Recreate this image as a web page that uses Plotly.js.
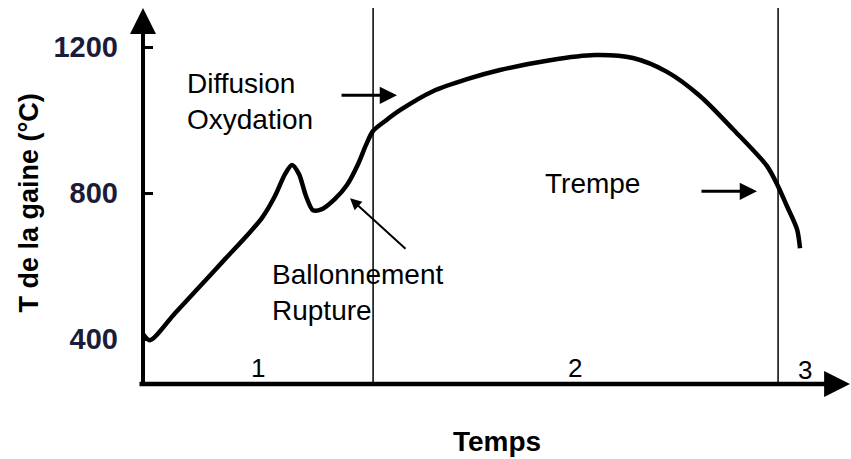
<!DOCTYPE html>
<html>
<head>
<meta charset="utf-8">
<script src="https://cdn.plot.ly/plotly-3.0.1.min.js"></script>
<style>
  html, body { margin: 0; padding: 0; background: #ffffff; }
  #chart { width: 851px; height: 459px; }
</style>
</head>
<body>
<div id="chart"></div>
<script>
// Cladding temperature curve (time in arbitrary units, temperature in °C)
const timeVals = [0, 0.99, 4.52, 8.05, 11.58, 15.11, 16.81, 18.64, 20.06, 21.05, 22.03, 23.02, 24.01, 25.28, 27.12, 28.81, 30.37, 31.50, 32.49, 34.18, 36.30, 40.96, 45.76, 50.42, 57.49, 63.84, 69.21, 74.01, 78.67, 83.33, 88.14, 89.69, 90.96, 92.37, 92.80];
const tempVals = [414, 397, 471, 545, 619, 693, 732, 792, 852, 877, 852, 792, 753, 756, 784, 822, 879, 932, 970, 997, 1027, 1079, 1112, 1137, 1164, 1178, 1170, 1132, 1066, 975, 874, 819, 764, 701, 649];

// Phase boundaries and phase numbers
const phaseBounds = [32.5, 89.7];
const phaseLabels = ['1', '2', '3'];
const phaseLabelX = [16.2, 61.0, 93.5];
const phaseLabelY = [321, 321, 316];

// Y axis ticks
const yTickVals = [400, 800, 1200];
const yTickText = ['400', '800', '1200'];

// Axis titles
const xTitle = 'Temps';
const yTitle = 'T de la gaine (°C)';

// Text notes
const noteTexts = ['Diffusion<br>Oxydation', 'Ballonnement<br>Rupture', 'Trempe'];
const noteX = [5.9, 17.9, 56.5];
const noteY = [1050, 529, 827];

// Note arrows: tip positions (data) and tail offsets (px)
const arrowTipX = [35.88, 29.24, 86.72];
const arrowTipY = [1068, 786, 805];
const arrowAx = [-57, 57, -57];
const arrowAy = [0, 52, 0];
const arrowW = [3, 2, 3];

const FONT = 'Liberation Sans, Arial, Helvetica, sans-serif';

const traces = [{
  x: timeVals,
  y: tempVals,
  type: 'scatter',
  mode: 'lines',
  line: { color: '#000000', width: 4.5, shape: 'spline', smoothing: 0.8 },
  hoverinfo: 'skip',
  showlegend: false
}];

const shapes = phaseBounds.map(b => ({
  type: 'line', xref: 'x', yref: 'paper',
  x0: b, x1: b, y0: 0, y1: 1.0,
  line: { color: '#000000', width: 1.5 }
}));

const annotations = [];
noteTexts.forEach((t, i) => {
  annotations.push({
    text: t, x: noteX[i], y: noteY[i], xref: 'x', yref: 'y',
    xanchor: 'left', yanchor: 'middle', align: 'left', showarrow: false,
    font: { family: FONT, size: 28, color: '#000000' }
  });
});
arrowTipX.forEach((x, i) => {
  annotations.push({
    text: '', x: x, y: arrowTipY[i], xref: 'x', yref: 'y',
    ax: arrowAx[i], ay: arrowAy[i], showarrow: true,
    arrowhead: 2, arrowsize: 1.15, arrowwidth: arrowW[i], arrowcolor: '#000000', standoff: 0
  });
});
phaseLabels.forEach((t, i) => {
  annotations.push({
    text: t, x: phaseLabelX[i], y: phaseLabelY[i], xref: 'x', yref: 'y',
    showarrow: false, font: { family: FONT, size: 26, color: '#000000' }
  });
});
// y axis title (placed precisely)
annotations.push({
  text: yTitle, x: -0.1624, y: 0.48, xref: 'paper', yref: 'paper',
  xanchor: 'center', yanchor: 'middle', textangle: -90, showarrow: false,
  font: { family: FONT, size: 27, weight: 'bold', color: '#000000' }
});
// axis arrows
annotations.push({
  text: '', x: 0, y: 1, xref: 'paper', yref: 'paper', ax: 0, ay: 378,
  showarrow: true, arrowhead: 2, arrowsize: 1.3, arrowwidth: 4, arrowcolor: '#000000', standoff: 0
});
annotations.push({
  text: '', x: 1, y: 0, xref: 'paper', yref: 'paper', ax: -713, ay: 0,
  showarrow: true, arrowhead: 2, arrowsize: 1.15, arrowwidth: 4.5, arrowcolor: '#000000', standoff: 0
});

const layout = {
  width: 851, height: 459,
  margin: { l: 143, r: 0, t: 8, b: 75 },
  paper_bgcolor: '#ffffff', plot_bgcolor: '#ffffff',
  font: { family: FONT, color: '#000000' },
  xaxis: {
    range: [0, 100], showgrid: false, zeroline: false, showline: false,
    showticklabels: false, ticks: '', fixedrange: true,
    title: { text: xTitle, font: { family: FONT, size: 28, weight: 'bold', color: '#000000' }, standoff: 47 }
  },
  yaxis: {
    range: [277, 1307], showgrid: false, zeroline: false, showline: false,
    tickvals: yTickVals, ticktext: yTickText,
    ticks: 'inside', ticklen: 10, tickwidth: 3, tickcolor: '#000000',
    tickfont: { family: FONT, size: 29, weight: 'bold', color: '#1b1b3a' },
    ticklabelstandoff: 24, fixedrange: true
  },
  shapes: shapes,
  annotations: annotations,
  showlegend: false
};

Plotly.newPlot('chart', traces, layout, { staticPlot: true, displayModeBar: false });
</script>
</body>
</html>
